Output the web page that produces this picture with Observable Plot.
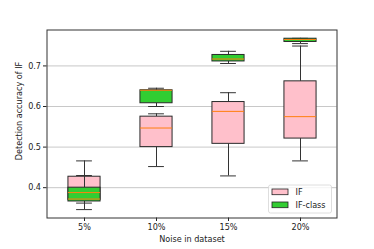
<!DOCTYPE html>
<html>
<head>
<meta charset="utf-8">
<script src="https://cdn.jsdelivr.net/npm/d3@7"></script>
<script src="https://cdn.jsdelivr.net/npm/@observablehq/plot@0.6"></script>
<style>
  html, body { margin: 0; padding: 0; background: white; }
  #chart { position: relative; width: 374px; height: 249px; }
</style>
</head>
<body>
<div id="chart"></div>
<script>
// ---- data ----
const categories = ["5%", "10%", "15%", "20%"];
const seriesNames = ["IF", "IF-class"];
const seriesColors = ["pink", "#32cd32"];
const yTicks = [0.4, 0.5, 0.6, 0.7];
const xLabel = "Noise in dataset";
const yLabel = "Detection accuracy of IF";

// IF (pink)
const ifLow    = [0.346, 0.452, 0.429, 0.466];
const ifQ1     = [0.370, 0.500, 0.508, 0.521];
const ifMedian = [0.388, 0.547, 0.588, 0.575];
const ifQ3     = [0.427, 0.575, 0.611, 0.662];
const ifHigh   = [0.466, 0.582, 0.634, 0.749];

// IF-class (green)
const clsLow    = [0.362, 0.600, 0.706, 0.755];
const clsQ1     = [0.366, 0.608, 0.711, 0.759];
const clsMedian = [0.372, 0.640, 0.717, 0.765];
const clsQ3     = [0.400, 0.640, 0.727, 0.767];
const clsHigh   = [0.430, 0.645, 0.736, 0.768];

// ---- build tables ----
function rows(name, lo, q1, med, q3, hi) {
  return categories.map((c, i) => ({cat: c, series: name, lo: lo[i], q1: q1[i], med: med[i], q3: q3[i], hi: hi[i]}));
}
const ifRows = rows("IF", ifLow, ifQ1, ifMedian, ifQ3, ifHigh);
const clsRows = rows("IF-class", clsLow, clsQ1, clsMedian, clsQ3, clsHigh);

const W = 374, H = 249;
const mL = 46.5, mR = 37.5, mT = 29.5, mB = 31.5;
const band = (W - mL - mR) / categories.length;
const boxInset = band * (1 - 0.45) / 2;
const capInset = band * (1 - 0.225) / 2;
const colorOf = s => seriesColors[seriesNames.indexOf(s)];

function boxMarks(data) {
  return [
    Plot.ruleX(data, {x: "cat", y1: "lo", y2: "q1", stroke: "#333", strokeWidth: 1}),
    Plot.ruleX(data, {x: "cat", y1: "q3", y2: "hi", stroke: "#333", strokeWidth: 1}),
    Plot.tickY(data, {x: "cat", y: "lo", stroke: "#333", strokeWidth: 1, insetLeft: capInset, insetRight: capInset}),
    Plot.tickY(data, {x: "cat", y: "hi", stroke: "#333", strokeWidth: 1, insetLeft: capInset, insetRight: capInset}),
    Plot.rect(data, {x: "cat", y1: "q1", y2: "q3", fill: d => colorOf(d.series), stroke: "#2a2a2a", strokeWidth: 1, insetLeft: boxInset, insetRight: boxInset})
  ];
}
function medianMarks(data) {
  return Plot.tickY(data, {x: "cat", y: "med", stroke: "#ff7f0e", strokeWidth: 1, insetLeft: boxInset, insetRight: boxInset});
}

const plot = Plot.plot({
  width: W, height: H,
  marginLeft: mL, marginRight: mR, marginTop: mT, marginBottom: mB,
  style: {fontFamily: "DejaVu Sans", fontSize: "8.1px", color: "#222", background: "white"},
  x: {domain: categories, padding: 0},
  y: {domain: [0.3253, 0.7885]},
  marks: [
    Plot.gridY(yTicks, {stroke: "#b0b0b0", strokeOpacity: 0.7, strokeWidth: 1}),
    Plot.axisY(yTicks, {tickFormat: d => d.toFixed(1), tickSize: 3.5, tickPadding: 2.5, label: null}),
    Plot.axisX({tickSize: 3.5, tickPadding: 2.5,
      label: xLabel, labelAnchor: "center", labelArrow: "none", labelOffset: 24}),
    ...boxMarks(ifRows),
    ...boxMarks(clsRows),
    medianMarks(ifRows),
    medianMarks(clsRows),
    Plot.frame({stroke: "#333", strokeWidth: 1})
  ]
});
document.getElementById("chart").appendChild(plot);

const svg = d3.select(plot);

// ---- y axis label ----
svg.append("text").text(yLabel)
  .attr("transform", "translate(19,111) rotate(-90)")
  .attr("text-anchor", "middle").attr("dy", "0.35em")
  .attr("font-family", "DejaVu Sans").attr("font-size", "8.1px").attr("fill", "#222");

// ---- legend (inside plot, lower right) ----
const lx = W - mR - 68, ly = H - mB - 32.5;
const lg = svg.append("g").attr("transform", `translate(${lx},${ly})`);
lg.append("rect").attr("width", 63).attr("height", 28).attr("rx", 2)
  .attr("fill", "white").attr("fill-opacity", 0.8).attr("stroke", "#d6d6d6").attr("stroke-width", 0.8);
seriesNames.forEach((name, i) => {
  const g = lg.append("g").attr("transform", `translate(3.5,${4 + i * 13})`);
  g.append("rect").attr("width", 16).attr("height", 5.7)
    .attr("fill", seriesColors[i]).attr("stroke", "#222").attr("stroke-width", 0.8);
  g.append("text").text(name).attr("x", 23.5).attr("y", 3).attr("dy", "0.35em")
    .attr("text-anchor", "start")
    .attr("font-family", "DejaVu Sans").attr("font-size", "8.1px").attr("fill", "#222");
});
</script>
</body>
</html>
